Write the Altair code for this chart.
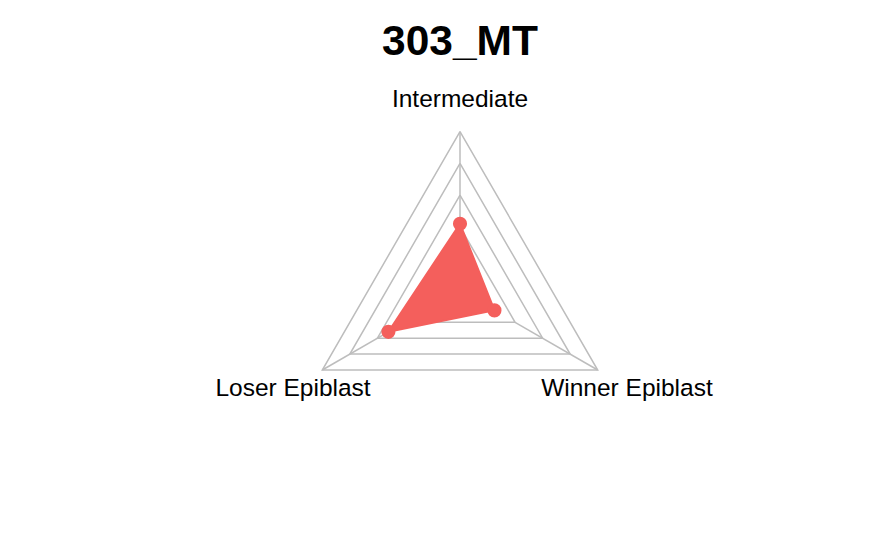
import altair as alt
import pandas as pd
import numpy as np

title_text = "303_MT"
categories = ["Intermediate", "Winner Epiblast", "Loser Epiblast"]
angles_deg = [90, -30, 210]
values = [0.42, 0.25, 0.52]
grid_levels = [0.4, 0.6, 0.8, 1.0]

R = 159.0  # radius in scale units (1 unit = 1 px)
FILL = "#F45F5C"
GRID = "#BDBDBD"
FONT = "Liberation Sans"

ang = np.deg2rad(angles_deg)

# data polygon (closed)
poly = pd.DataFrame({
    "cat": categories + [categories[0]],
    "order": list(range(len(categories) + 1)),
    "value": values + [values[0]],
    "ang": list(ang) + [ang[0]],
})
poly["x"] = R * poly["value"] * np.cos(poly["ang"])
poly["y"] = R * poly["value"] * np.sin(poly["ang"])

# grid triangles
rows = []
for lv in grid_levels:
    for i in range(len(categories) + 1):
        a = ang[i % len(categories)]
        rows.append({"level": lv, "order": i, "x": R * lv * np.cos(a), "y": R * lv * np.sin(a)})
grid = pd.DataFrame(rows)

# spokes
spokes = pd.DataFrame({
    "cat": categories,
    "x": [R * grid_levels[0] * np.cos(a) for a in ang],
    "y": [R * grid_levels[0] * np.sin(a) for a in ang],
    "x2": [R * grid_levels[-1] * np.cos(a) for a in ang],
    "y2": [R * grid_levels[-1] * np.sin(a) for a in ang],
})

labels = pd.DataFrame({
    "cat": categories,
    "x": [R * 1.2125 * np.cos(a) for a in ang],
    "y": [R * 1.2125 * np.sin(a) for a in ang],
})

xs = alt.Scale(domain=[-460, 420], nice=False, zero=False)
ys = alt.Scale(domain=[-252.5, 290.5], nice=False, zero=False)
X = lambda f: alt.X(f, type="quantitative", scale=xs, axis=None)
Y = lambda f: alt.Y(f, type="quantitative", scale=ys, axis=None)

grid_layer = alt.Chart(grid).mark_line(color=GRID, strokeWidth=1.5).encode(
    x=X("x"), y=Y("y"), detail="level:N", order="order:Q"
)
spoke_layer = alt.Chart(spokes).mark_rule(color=GRID, strokeWidth=1.5).encode(
    x=X("x"), y=Y("y"), x2="x2:Q", y2="y2:Q"
)
poly_layer = alt.Chart(poly).mark_line(color=FILL, fill=FILL, strokeWidth=2).encode(
    x=X("x"), y=Y("y"), order="order:Q"
)
pts_layer = alt.Chart(poly.iloc[:-1]).mark_circle(color=FILL, opacity=1, size=200).encode(
    x=X("x"), y=Y("y")
)
label_layer = alt.Chart(labels).mark_text(
    font=FONT, fontSize=24.5, color="black", baseline="middle", align="center", dy=2
).encode(x=X("x"), y=Y("y"), text="cat:N")
title_layer = alt.Chart(pd.DataFrame({"t": [title_text]})).mark_text(
    font=FONT, fontSize=42.5, fontWeight="bold", color="black", baseline="alphabetic", align="center"
).encode(x=alt.value(460), y=alt.value(55), text="t:N")

chart = alt.layer(
    grid_layer, spoke_layer, poly_layer, pts_layer, label_layer, title_layer
).properties(
    width=880, height=543, autosize=alt.AutoSizeParams(type="none"), padding=0,
    background="white"
).configure_view(stroke=None)

chart.save("out.html", embed_options={"renderer": "svg", "actions": False})
